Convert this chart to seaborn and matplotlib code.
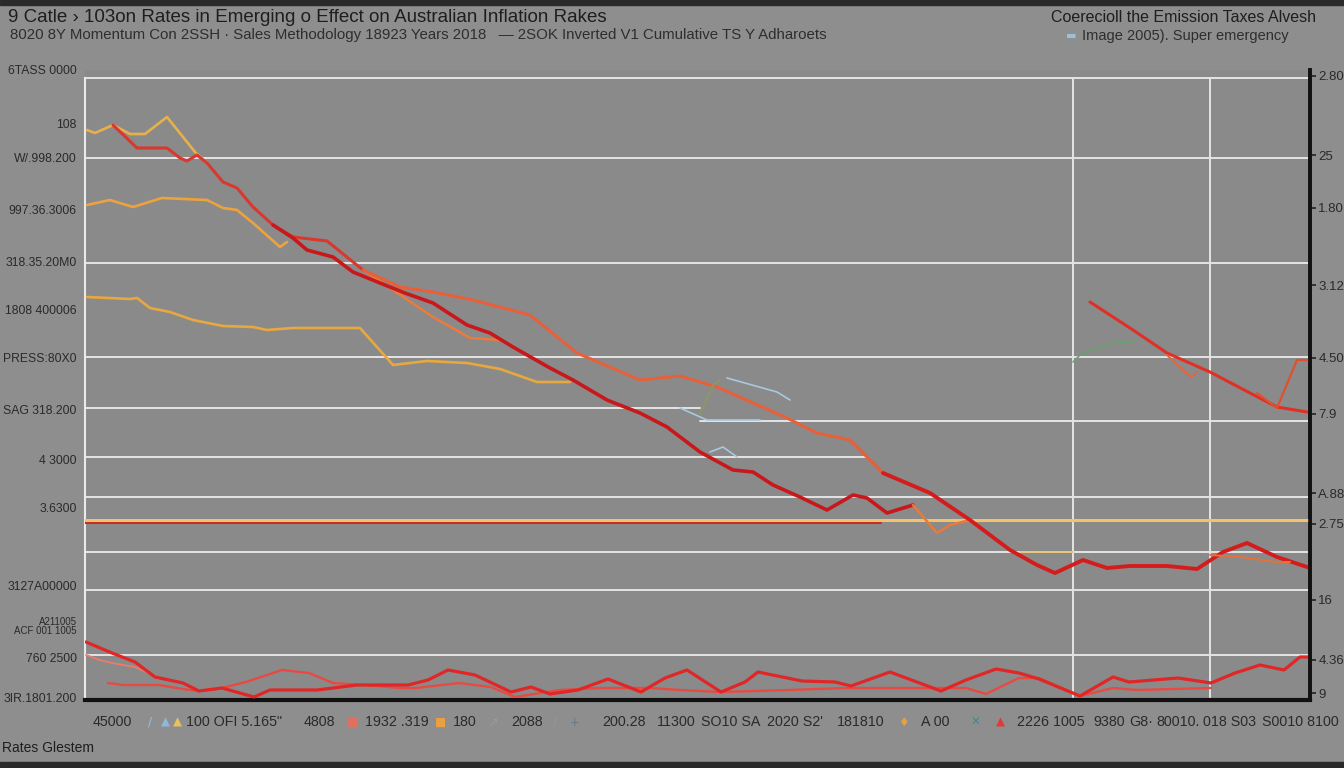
import numpy as np
import pandas as pd
import matplotlib
matplotlib.use("Agg")
import matplotlib.pyplot as plt
from matplotlib.patches import Rectangle
import seaborn as sns

# ---------------- data (chart units) ----------------
upper_yellow_x = [2, 10, 28, 45, 60, 82, 110, 122]
upper_yellow_y = [570, 567, 575, 566, 566, 583, 548, 537]

lead_red_x = [28, 52, 82, 95, 102, 112, 122, 138, 152, 168, 188, 208, 242, 278]
lead_red_y = [575, 552, 552, 542, 539, 545, 537, 518, 512, 493, 475, 463, 459, 430]

lead_orange_x = [278, 315, 348, 388, 445, 492, 555, 595, 632, 702, 732, 765, 798]
lead_orange_y = [430, 413, 408, 400, 385, 347, 320, 324, 313, 282, 267, 260, 227]

tail_red_x = [798, 845, 885, 925, 952, 970, 998, 1022, 1045, 1082, 1112, 1138, 1162, 1192, 1225]
tail_red_y = [227, 207, 180, 150, 135, 127, 140, 132, 134, 134, 131, 148, 157, 143, 132]

dark_red_x = [188, 208, 222, 248, 268, 295, 320, 348, 382, 405, 428, 465, 488, 522, 555, 582,
              615, 648, 668, 688, 715, 742, 768, 782, 802, 828]
dark_red_y = [475, 462, 450, 443, 428, 417, 407, 397, 375, 367, 353, 332, 320, 300, 287, 273,
              248, 230, 228, 215, 203, 190, 205, 202, 187, 195]

dip_orange_x = [828, 852, 865, 885]
dip_orange_y = [195, 167, 175, 180]

mid_yellow_x = [2, 25, 48, 77, 122, 138, 152, 168, 195, 202]
mid_yellow_y = [495, 500, 493, 502, 500, 492, 490, 477, 453, 458]

low_orange_x = [278, 308, 348, 385, 415]
low_orange_y = [430, 410, 383, 362, 360]

low_yellow_x = [2, 45, 52, 65, 85, 108, 138, 168, 182, 208, 275, 308, 342, 382, 415, 452, 485]
low_yellow_y = [403, 401, 402, 392, 388, 380, 374, 373, 370, 372, 372, 335, 339, 337, 331, 318, 318]

blue_a_x = [595, 622, 675]
blue_a_y = [292, 280, 280]
olive_x = [615, 628, 635]
olive_y = [285, 315, 320]
blue_b_x = [642, 692, 705]
blue_b_y = [322, 308, 300]
blue_c_x = [625, 638, 652]
blue_c_y = [248, 253, 243]

right_red_x = [1005, 1048, 1082, 1125, 1165, 1192, 1222]
right_red_y = [398, 370, 347, 328, 307, 293, 288]
right_orange_x = [1082, 1100, 1107, 1112]
right_orange_y = [345, 328, 323, 328]
right_spike_x = [1172, 1192, 1212, 1225]
right_spike_y = [307, 292, 340, 340]
green_x = [988, 995, 1002, 1028, 1048]
green_y = [338, 345, 348, 357, 358]
pale_x = [935, 988]
pale_y = [148, 148]
under_orange_x = [1125, 1155, 1192, 1205]
under_orange_y = [145, 143, 138, 138]

level_yellow_x = [0, 1225]
level_yellow_y = [180, 180]
level_red_x = [0, 795]
level_red_y = [178, 178]

base_red_x = [1, 27, 50, 70, 98, 114, 137, 169, 185, 232, 272, 323, 343, 363, 390, 426, 446, 465,
              493, 523, 556, 580, 602, 636, 660, 673, 717, 750, 766, 805, 856, 881, 911, 934, 954,
              995, 1028, 1044, 1093, 1126, 1150, 1175, 1199, 1215, 1225]
base_red_y = [58, 47, 38, 23, 17, 9, 12, 3, 10, 10, 15, 15, 20, 30, 25, 8, 13, 6,
              10, 21, 8, 22, 30, 8, 18, 28, 19, 18, 14, 28, 9, 20, 31, 27, 21,
              4, 23, 18, 22, 17, 27, 35, 30, 43, 43]
base_pink_x = [23, 38, 74, 98, 114, 137, 161, 197, 224, 248, 280, 315, 331, 374, 406, 430, 475,
               515, 564, 595, 636, 705, 760, 830, 881, 901, 934, 954, 995, 1028, 1052, 1126]
base_pink_y = [17, 15, 15, 11, 9, 12, 18, 30, 27, 17, 15, 12, 12, 17, 13, 3, 10,
               12, 12, 10, 8, 10, 12, 12, 12, 6, 22, 22, 4, 12, 10, 12]
base_light_x = [1, 15, 27, 50, 70]
base_light_y = [45, 40, 37, 33, 24]

left_labels = ["6TASS 0000", "108", "W/.998.200", "997.36.3006", "318.35.20M0", "1808 400006",
               "PRESS:80X0", "SAG 318.200", "4 3000", "3.6300", "3127A00000",
               "A211005\nACF 001 1005", "760 2500", "3IR.1801.200"]
left_label_pos = [630, 576, 542, 490, 438, 391, 342, 290, 240, 192, 115, 74, 42, 3]

right_labels = ["2.80", "25", "1.80", "3.12", "4.50", "7.9", "A.88", "2.75", "16", "4.36", "9"]
right_label_pos = [624, 545, 492, 415, 342, 286, 207, 176, 100, 40, 7]

bottom_labels = ["45000", "100 OFI 5.165\"", "4808", "1932 .319", "180", "2088", "200.28",
                 "11300", "SO10 SA", "2020 S2'", "181810", "A 00", "2226 1005", "9380",
                 "G8·", "80010.", "018 S03", "S0010 8100"]
bottom_label_pos = [27, 149, 234, 312, 380, 442, 539, 591, 646, 710, 776, 850, 966, 1024,
                    1056, 1093, 1145, 1215]

title_text = "9 Catle › 103on Rates in Emerging o Effect on Australian Inflation Rakes"
subtitle_text = ("8020 8Y Momentum Con 2SSH · Sales Methodology 18923 Years 2018   "
                 "— 2SOK Inverted V1 Cumulative TS Y Adharoets")
right_title = "Coerecioll the Emission Taxes Alvesh"
right_sub = "Image 2005). Super emergency"
footer = "Rates Glestem"

# ---------------- style ----------------
sns.set_theme(style="white")
plt.rcParams["font.family"] = ["Liberation Sans", "DejaVu Sans"]

W, H = 1344, 768
fig = plt.figure(figsize=(W / 100, H / 100), dpi=100)
fig.patch.set_facecolor("#8e8e8e")
fig.add_artist(Rectangle((0, 1 - 5 / H), 1, 5 / H, transform=fig.transFigure,
                         color="#2a2a2a", zorder=0))
fig.add_artist(Rectangle((0, 0), 1, 6 / H, transform=fig.transFigure,
                         color="#2a2a2a", zorder=0))

ax = fig.add_axes([85 / W, 68 / H, 1225 / W, 630 / H])
ax.set_facecolor("#8a8a8a")
ax.set_xlim(0, 1225)
ax.set_ylim(0, 630)

grid_c = "#e4e4e4"
for yv, x0, x1 in [(622, 0, 1), (542, 0, 1), (437, 0, 1), (343, 0, 1), (292, 0, 0.502),
                   (279, 0.502, 1), (243, 0, 0.637), (203, 0, 1), (148, 0, 1), (110, 0, 1),
                   (45, 0, 1)]:
    ax.axhline(yv, xmin=x0, xmax=x1, color=grid_c, lw=1.4, zorder=1)
for xv in [988, 1125]:
    ax.axvline(xv, ymax=622 / 630, color=grid_c, lw=1.4, zorder=1)

series = [
    (level_red_x, level_red_y, "#c82a22", 2.2),
    (level_yellow_x, level_yellow_y, "#f2c36c", 2.2),
    (upper_yellow_x, upper_yellow_y, "#e8b04a", 1.9),
    (mid_yellow_x, mid_yellow_y, "#eea23e", 1.9),
    (low_yellow_x, low_yellow_y, "#e8a840", 1.9),
    (low_orange_x, low_orange_y, "#ec7a3a", 1.8),
    (lead_red_x, lead_red_y, "#d8382e", 2.2),
    (lead_orange_x, lead_orange_y, "#e8603a", 2.2),
    (dark_red_x, dark_red_y, "#c8181c", 2.6),
    (dip_orange_x, dip_orange_y, "#ea7a3a", 1.8),
    (tail_red_x, tail_red_y, "#d41c1c", 2.8),
    (blue_a_x, blue_a_y, "#a8c8e0", 1.2),
    (olive_x, olive_y, "#8a9a60", 1.2),
    (blue_b_x, blue_b_y, "#a8c8e0", 1.2),
    (blue_c_x, blue_c_y, "#a8c8e0", 1.2),
    (right_red_x, right_red_y, "#e03026", 2.2),
    (right_orange_x, right_orange_y, "#e8643a", 1.5),
    (right_spike_x, right_spike_y, "#e0502e", 1.6),
    (green_x, green_y, "#6aa070", 1.2),
    (pale_x, pale_y, "#e8c878", 1.4),
    (under_orange_x, under_orange_y, "#e8703a", 1.4),
    (base_light_x, base_light_y, "#ee7a6a", 1.3),
    (base_pink_x, base_pink_y, "#e84a42", 1.7),
    (base_red_x, base_red_y, "#e02626", 2.3),
]
for xs, ys, col, lw in series:
    df = pd.DataFrame({"x": xs, "y": ys})
    sns.lineplot(data=df, x="x", y="y", ax=ax, color=col, lw=lw, estimator=None,
                 sort=False, zorder=3)

ax.set_xlabel("")
ax.set_ylabel("")

# spines
ax.spines["top"].set_visible(False)
ax.spines["left"].set_color("#eaeaea")
ax.spines["left"].set_linewidth(1.5)
ax.spines["left"].set_bounds(0, 622)
ax.spines["bottom"].set_color("#111111")
ax.spines["bottom"].set_linewidth(3)
ax.spines["right"].set_color("#111111")
ax.spines["right"].set_linewidth(2.6)

# left ticks
ax.set_yticks(left_label_pos)
ax.set_yticklabels(left_labels)
ax.tick_params(axis="y", length=0, pad=6, labelsize=8.8, labelcolor="#2a2a2a")
for t in ax.get_yticklabels():
    if "\n" in t.get_text():
        t.set_fontsize(7)
        t.set_linespacing(0.9)

# bottom ticks (marks only)
ax.set_xticks([62, 526, 693, 801])
ax.set_xticklabels([])
ax.tick_params(axis="x", length=5, width=1.5, color="#111111", direction="out")

# right ticks
ax2 = ax.twinx()
ax2.set_ylim(0, 630)
ax2.set_yticks(right_label_pos)
ax2.set_yticklabels(right_labels)
ax2.tick_params(axis="y", length=4, width=1.2, color="#222222", pad=2, labelsize=9.5,
                labelcolor="#2a2a2a")
for s in ["top", "left", "bottom"]:
    ax2.spines[s].set_visible(False)
ax2.spines["right"].set_color("#111111")
ax2.spines["right"].set_linewidth(2.6)
ax2.grid(False)

# bottom label row
for lab, xp in zip(bottom_labels, bottom_label_pos):
    ax.text(xp, -22, lab, ha="center", va="center", fontsize=10.3, color="#2a2a2a",
            clip_on=False)
icon_specs = [(65, "/", "#9cc0dc"), (80, "▲", "#8fb8d8"), (92, "▲", "#e8c060"),
              (268, "■", "#e07060"), (356, "■", "#e8a040"), (408, "↗", "#8aa0b0"),
              (470, "/", "#8a9aa8"), (490, "+", "#6a7a88"), (818, "♦", "#e8a040"),
              (890, "✕", "#3a8a9a"), (915, "▲", "#e03a3a")]
for xp, glyph, col in icon_specs:
    ax.text(xp, -22, glyph, ha="center", va="center", fontsize=8.5, color=col,
            family="DejaVu Sans", clip_on=False)

# titles
fig.text(8 / W, 1 - 17 / H, title_text, fontsize=13.5, color="#1e1e1e", va="center",
         ha="left")
fig.text(10 / W, 1 - 35 / H, subtitle_text, fontsize=10.8, color="#2e2e2e", va="center",
         ha="left")
fig.text(1316 / W, 1 - 17 / H, right_title, fontsize=11.5, color="#1e1e1e", va="center",
         ha="right")
fig.text(1082 / W, 1 - 36 / H, right_sub, fontsize=10.5, color="#2e2e2e", va="center",
         ha="left")
fig.text(1066 / W, 1 - 36 / H, "▬", fontsize=8, color="#9cc0dc", va="center", ha="left",
         family="DejaVu Sans")
fig.text(2 / W, 1 - 748 / H, footer, fontsize=10, color="#1e1e1e", va="center", ha="left")

fig.savefig("out.png", dpi=100, facecolor=fig.get_facecolor())
